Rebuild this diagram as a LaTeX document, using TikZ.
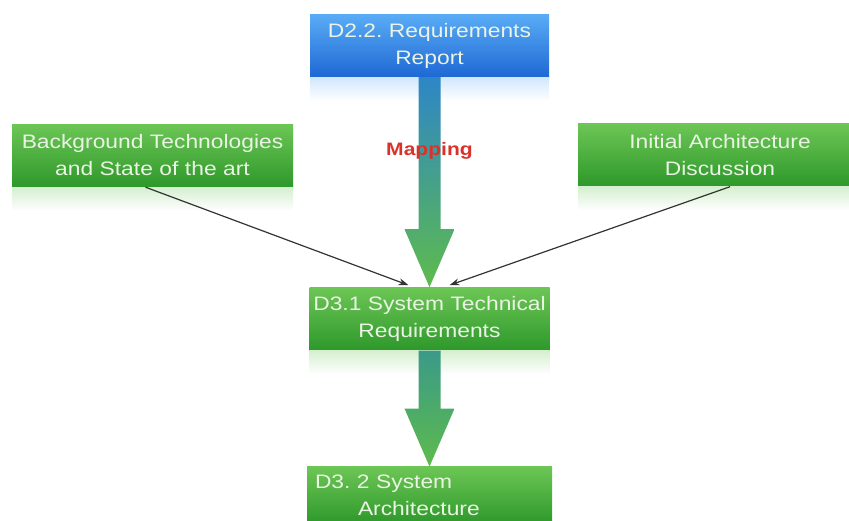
\documentclass[tikz,border=0pt]{standalone}
\usepackage{fontspec}
\setmainfont{Liberation Sans}[FakeStretch=1.17]
\usetikzlibrary{positioning,arrows.meta,calc}
\definecolor{greentop}{HTML}{6CC655}
\definecolor{greenbot}{HTML}{2E982B}
\definecolor{bluetop}{HTML}{5AACF6}
\definecolor{bluebot}{HTML}{1E68D4}
\definecolor{teal}{HTML}{2E86C6}
\definecolor{tealgreen}{HTML}{3A9A88}
\definecolor{arrowgreen}{HTML}{5EBB4C}
\definecolor{mapred}{HTML}{D8332A}
\definecolor{boxtext}{HTML}{EAF3E4}
\newcommand\fatarrow[4]{%
  \shade[top color=#3, bottom color=#4]
    ($(#1.south)+(-11,0)$) -- ($(#2.north)+(-11,-58)$) -- ($(#2.north)+(-25,-58)$)
    -- (#2.north) -- ($(#2.north)+(25,-58)$) -- ($(#2.north)+(11,-58)$)
    -- ($(#1.south)+(11,0)$) -- cycle;}
\newcommand\reflect[2]{%
  \shade[top color=#2!28, bottom color=white] (#1.south west) rectangle ([yshift=-24pt]#1.south east);}

\begin{document}
\frenchspacing
\begin{tikzpicture}[x=1pt, y=-1pt, >={Stealth[length=10pt,width=7pt]},
box/.style={rectangle, inner sep=0pt, minimum height=63pt, align=center, text=boxtext,
  font=\fontsize{19.5}{27}\selectfont},
greenbox/.style={box, top color=greentop, bottom color=greenbot},
bluebox/.style={box, top color=bluetop, bottom color=bluebot},
maplabel/.style={text=mapred, font=\fontsize{18}{20}\selectfont\bfseries}
]
\clip (0,0) rectangle (849,520);

\node (req) [bluebox, text width=239pt] at (429.5,45.5) {D2.2. Requirements\\Report};
\node (stech) [greenbox, text width=240pt, below=210pt of req] {D3.1 System Technical\\Requirements};
\node (sarch) [greenbox, text width=229pt, inner xsep=8pt, minimum height=57pt, align=left, below=116pt of stech]
  {D3. 2 System\\\hspace*{43pt}Architecture};
\node (bg) [greenbox, text width=281pt] at (152.5,155.5) {Background Technologies\\and State of the art};
\node (ia) [greenbox, text width=284pt] at (720,155) {Initial Architecture\\Discussion};

% reflections
\reflect{req}{bluetop}
\reflect{stech}{greentop}
\reflect{bg}{greentop}
\reflect{ia}{greentop}

\fatarrow{req}{stech}{teal}{arrowgreen}
\fatarrow{stech}{sarch}{tealgreen}{arrowgreen}
\node (map) [maplabel] at ($(req.south)!0.35!(stech.north)$) {Mapping};

\draw[->, line width=1.2pt, black!80] ([xshift=-7pt]bg.south) -- ([xshift=-21pt,yshift=2pt]stech.north);
\draw[->, line width=1.2pt, black!80] ([xshift=10pt]ia.south) -- ([xshift=20pt,yshift=2pt]stech.north);

\end{tikzpicture}
\end{document}
